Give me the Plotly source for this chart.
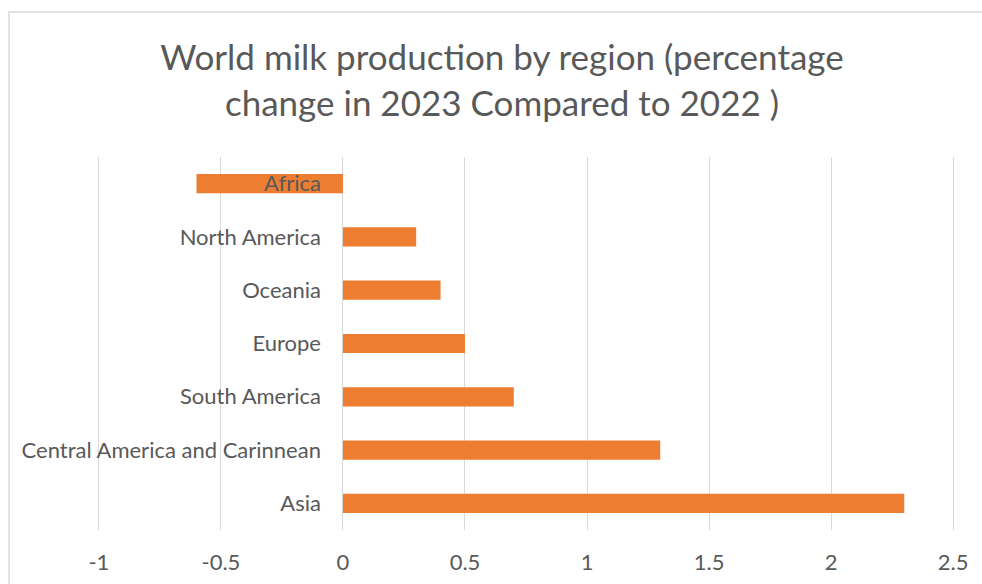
import plotly.graph_objects as go

# Regions listed bottom-to-top as they appear on the category axis
regions = ["Asia", "Central America and Carinnean", "South America", "Europe",
           "Oceania", "North America", "Africa"]
pct_change = [2.3, 1.3, 0.7, 0.5, 0.4, 0.3, -0.6]
x_ticks = [-1, -0.5, 0, 0.5, 1, 1.5, 2, 2.5]
x_tick_text = ["-1", "-0.5", "0", "0.5", "1", "1.5", "2", "2.5"]

W, H = 982, 584
L, R, T, B = 95, 25, 157, 54
plot_w = W - L - R
plot_h = H - T - B

# pad keeps the gridlines at -1 and 2.5 clear of the plot edges
pad = 0.016
x_min, x_max = -1 - pad, 2.5 + pad
zero_frac = (0 - x_min) / (x_max - x_min)

text_col = "#595959"
grid_col = "#d9d9d9"

fig = go.Figure(go.Bar(
    y=regions,
    x=pct_change,
    orientation="h",
    width=0.36,
    marker=dict(color="#ED7D31", line=dict(width=0)),
    hoverinfo="x+y",
))

fig.update_layout(
    width=W, height=H,
    margin=dict(l=L, r=R, t=T, b=B, autoexpand=False),
    paper_bgcolor="white",
    plot_bgcolor="white",
    font=dict(family="Lato, Carlito, Calibri, sans-serif", color=text_col),
    showlegend=False,
    title=dict(
        text="World milk production by region (percentage<br>change in 2023 Compared to 2022 )",
        font=dict(size=35, color=text_col),
        x=502 / W, xanchor="center", xref="container",
        y=1 - 70 / H, yanchor="middle", yref="container",
    ),
    xaxis=dict(
        range=[x_min, x_max],
        tickvals=x_ticks, ticktext=x_tick_text,
        showgrid=True, gridcolor=grid_col, gridwidth=1,
        zeroline=False, showline=False,
        ticks="", ticklabelstandoff=17,
        tickfont=dict(size=22, color=text_col),
        automargin=False,
        fixedrange=True,
    ),
    yaxis=dict(
        anchor="free", position=zero_frac,
        categoryorder="array", categoryarray=regions,
        range=[-0.5, len(regions) - 0.5],
        showgrid=False, zeroline=False, showline=False,
        ticks="", ticklabelstandoff=22,
        tickfont=dict(size=22, color=text_col),
        automargin=False,
        fixedrange=True,
    ),
    shapes=[dict(
        type="rect", xref="paper", yref="paper",
        x0=(9 - L) / plot_w, x1=(W + 20 - L) / plot_w,
        y0=-(B + 20) / plot_h, y1=(H - B - 12) / plot_h,
        line=dict(color=grid_col, width=1.5),
        fillcolor="rgba(0,0,0,0)", layer="below",
    )],
)

fig.write_html("out.html")
